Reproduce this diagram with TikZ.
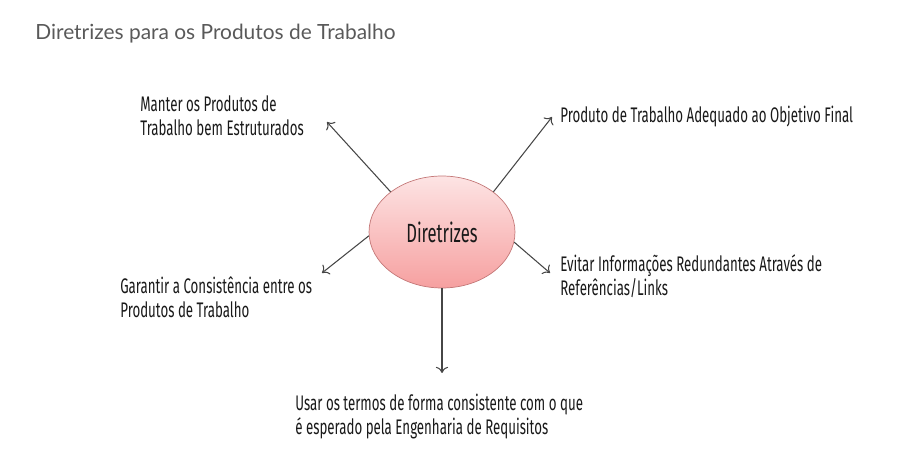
\documentclass[tikz,border=0pt]{standalone}
\usepackage{fontspec}
\usepackage{xcolor}
\usetikzlibrary{arrows.meta,shapes.geometric}
\newfontfamily\agency{Fira Sans}[FakeStretch=0.63]
\newfontfamily\titlefont{Lato}
\definecolor{hubtop}{RGB}{253,228,228}
\definecolor{hubbot}{RGB}{246,160,160}
\definecolor{hubline}{RGB}{196,120,120}
\definecolor{txt}{RGB}{25,25,25}
\definecolor{arr}{RGB}{70,70,70}
\tikzset{%
	hub/.style   = {draw=hubline, ellipse, minimum width=2.92cm, minimum height=2.24cm, top color=hubtop, bottom color=hubbot, text=txt, font=\agency\fontsize{15}{17}\selectfont},
	item/.style  = {anchor=west, align=left, inner sep=0pt, text=txt, font=\agency\fontsize{12}{13.6}\selectfont},
	arrow/.style = {draw=arr, line width=0.6pt, -{To[length=3.5pt,width=7pt]}},
}
\begin{document}
\begin{tikzpicture}[x=0.02cm,y=-0.02cm]
	\useasboundingbox (0,0) rectangle (902,465);
	\node[anchor=base west,inner sep=0pt,text=black!65,font=\titlefont\fontsize{11.9}{14}\selectfont] (title) at (35,40) {Diretrizes para os Produtos de Trabalho};
	
	\node[hub] (dir) at (442,232) {Diretrizes};
	
	\node[item] (manter) at (140,115.5) {Manter os Produtos de\\Trabalho bem Estruturados};
	\node[item] (produto) at (560,117) {Produto de Trabalho Adequado ao Objetivo Final};
	\node[item] (evitar) at (560,276.5) {Evitar Informações Redundantes Através de\\Referências/Links};
	\node[item] (garantir) at (120,297.5) {Garantir a Consistência entre os\\Produtos de Trabalho};
	\node[item] (usar) at (295,416.5) {Usar os termos de forma consistente com o que\\é esperado pela Engenharia de Requisitos};
	
	\coordinate (tipmanter) at (327,122);
	\coordinate (tipproduto) at (552,117);
	\coordinate (tipevitar) at (550,273);
	\coordinate (tipgarantir) at (322,273);
	\coordinate (tipusar) at (442,373);
	
	\draw[arrow] (dir.142) -- (tipmanter);
	\draw[arrow] (dir.38) -- (tipproduto);
	\draw[arrow] (dir.-8) -- (tipevitar);
	\draw[arrow] (dir.183) -- (tipgarantir);
	\draw[arrow] (dir.south) -- (tipusar);
\end{tikzpicture}
\end{document}
